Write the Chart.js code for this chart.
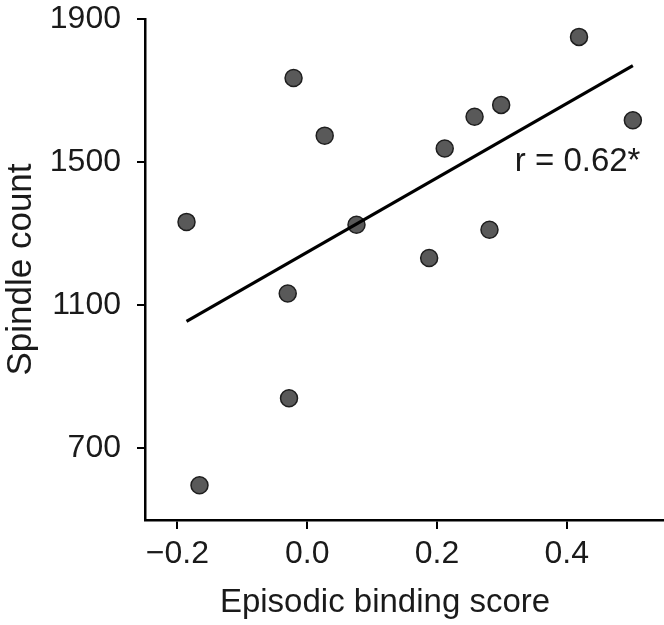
<!DOCTYPE html>
<html>
<head>
<meta charset="utf-8">
<script src="https://cdn.jsdelivr.net/npm/chart.js@4"></script>
<style>
  body { margin: 0; background: #fff; }
  canvas { display: block; }
</style>
</head>
<body>
<canvas id="scatterChart" width="664" height="625"></canvas>
<script>
// Episodic binding score vs spindle count, one point per subject
const bindingScores = [-0.186, -0.166, -0.021, -0.030, -0.028, 0.027, 0.076, 0.188, 0.212, 0.258, 0.299, 0.281, 0.419, 0.502];
const spindleCounts = [1333, 597, 1735, 1133, 840, 1574, 1325, 1232, 1538, 1627, 1660, 1311, 1850, 1617];

// Fitted line endpoints
const fitX = [-0.186, 0.502];
const fitY = [1055, 1770];

const xTicks = [-0.2, 0, 0.2, 0.4];
const yTicks = [700, 1100, 1500, 1900];

const corrLabel = "r = 0.62*";
const xTitle = "Episodic binding score";
const yTitle = "Spindle count";

const FONT = "'Liberation Sans', Arial, sans-serif";
const INK = "#1a1a1a";

const points = bindingScores.map((x, i) => ({ x: x, y: spindleCounts[i] }));
const fitLine = fitX.map((x, i) => ({ x: x, y: fitY[i] }));

// Draws the r value and the x axis title
const extraText = {
    id: "extraText",
    afterDraw(chart) {
        const ctx = chart.ctx;
        const xs = chart.scales.x;
        const ys = chart.scales.y;
        ctx.save();
        ctx.fillStyle = INK;
        ctx.font = "33px " + FONT;
        ctx.textAlign = "left";
        ctx.textBaseline = "middle";
        ctx.fillText(corrLabel, xs.getPixelForValue(0.32), ys.getPixelForValue(1500));
        ctx.textAlign = "center";
        ctx.fillText(xTitle, 385, 603);
        ctx.restore();
    },
};

new Chart(document.getElementById("scatterChart"), {
    type: "scatter",
    data: {
        datasets: [
            {
                type: "line",
                data: fitLine,
                borderColor: "#000",
                borderWidth: 3.2,
                pointRadius: 0,
                fill: false,
            },
            {
                data: points,
                backgroundColor: "#595959",
                borderColor: "#1e1e1e",
                borderWidth: 1.5,
                pointRadius: 8.5,
            },
        ],
    },
    options: {
        responsive: false,
        animation: false,
        layout: { autoPadding: false, padding: { top: 19, right: 0, left: 0, bottom: 0 } },
        plugins: {
            legend: { display: false },
            tooltip: { enabled: false },
        },
        scales: {
            x: {
                type: "linear",
                min: -0.25,
                max: 0.55,
                afterBuildTicks: (scale) => {
                    scale.ticks = xTicks.map((v) => ({ value: v }));
                },
                afterFit: (scale) => {
                    scale.height = 105;
                    scale.paddingLeft = 0;
                    scale.paddingRight = 0;
                },
                grid: {
                    drawOnChartArea: false,
                    drawTicks: true,
                    tickLength: 9,
                    color: "#000",
                    lineWidth: 2,
                },
                border: { display: true, color: "#000", width: 2.5 },
                ticks: {
                    padding: 6,
                    color: INK,
                    font: { family: FONT, size: 32 },
                    callback: (v) => v.toFixed(1).replace("-", "\u2212"),
                },
            },
            y: {
                min: 500,
                max: 1900,
                afterBuildTicks: (scale) => {
                    scale.ticks = yTicks.map((v) => ({ value: v }));
                },
                afterFit: (scale) => {
                    scale.width = 145;
                    scale.paddingTop = 0;
                    scale.paddingBottom = 0;
                },
                grid: {
                    drawOnChartArea: false,
                    drawTicks: true,
                    tickLength: 8,
                    color: "#000",
                    lineWidth: 2,
                },
                border: { display: true, color: "#000", width: 2.5 },
                title: {
                    display: true,
                    text: yTitle,
                    color: INK,
                    font: { family: FONT, size: 35 },
                    padding: { top: 0, bottom: 0 },
                },
                ticks: {
                    padding: 16,
                    color: INK,
                    font: { family: FONT, size: 32 },
                    callback: (v) => String(v),
                },
            },
        },
    },
    plugins: [extraText],
});
</script>
</body>
</html>
